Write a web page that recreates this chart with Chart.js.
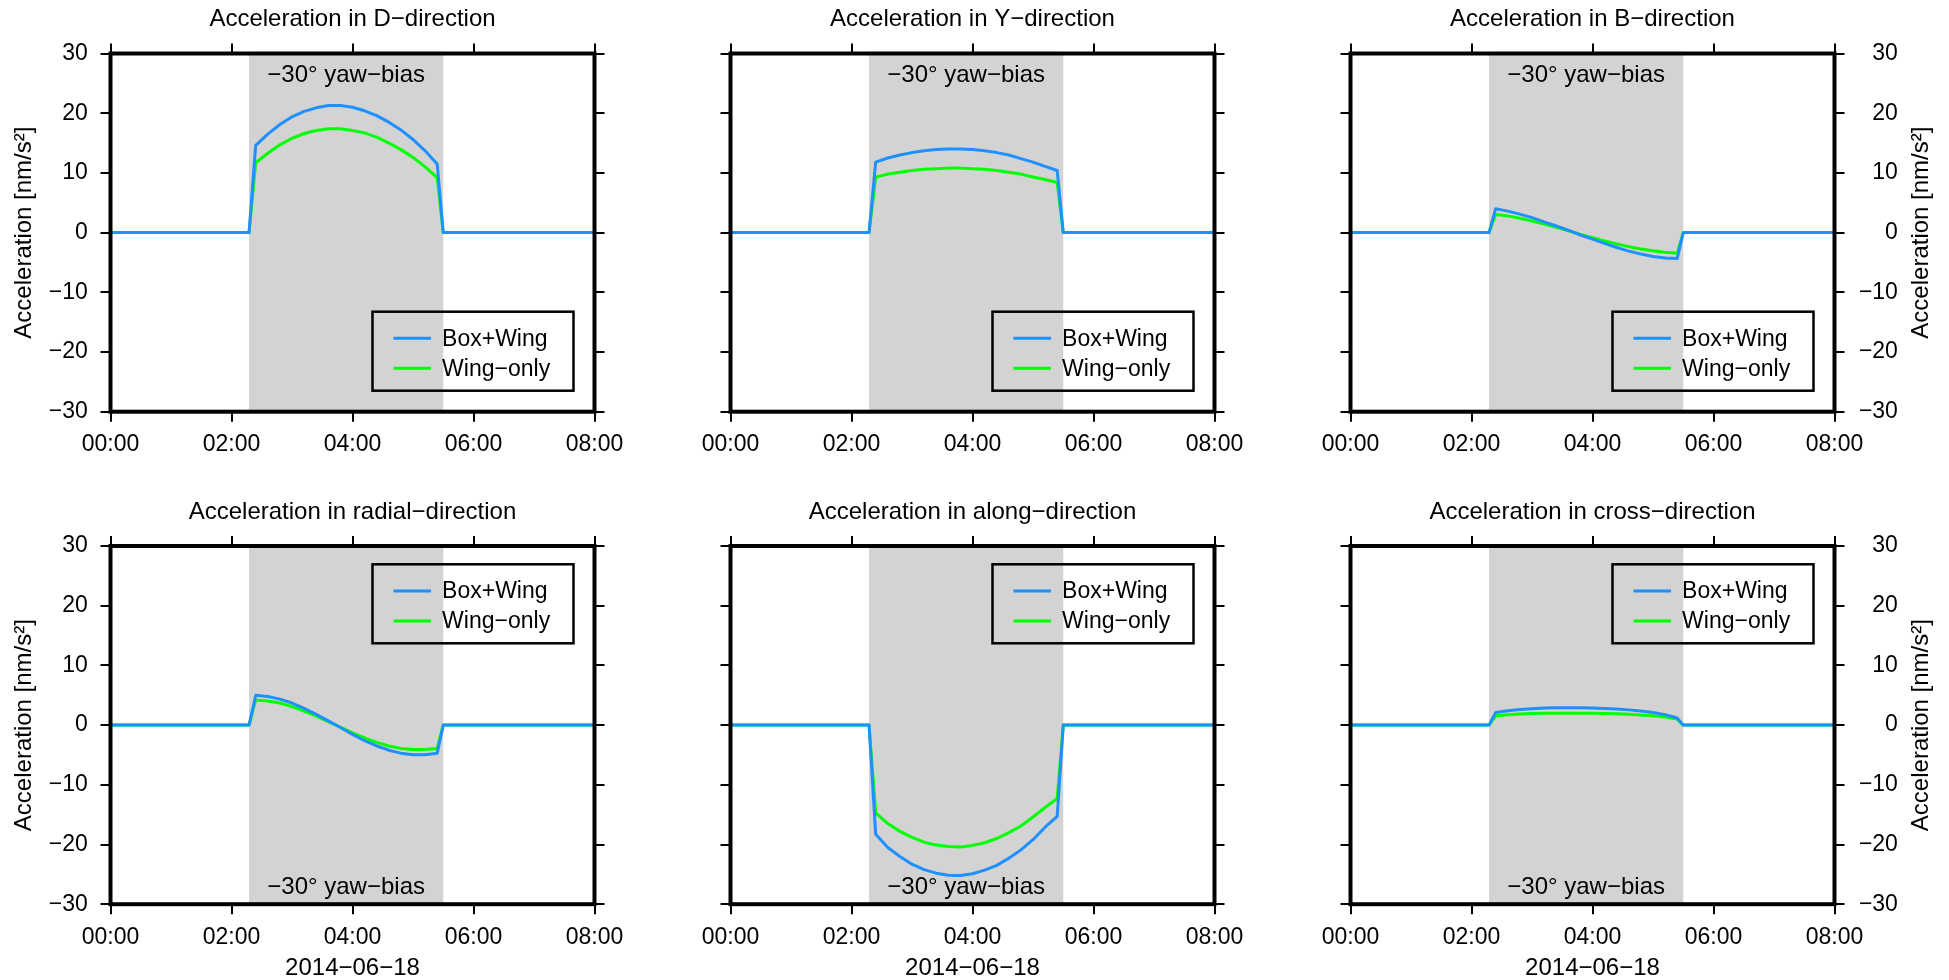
<!DOCTYPE html>
<html>
<head>
<meta charset="utf-8">
<script src="https://cdn.jsdelivr.net/npm/chart.js@4/dist/chart.umd.min.js"></script>
<style>
  html, body { margin: 0; padding: 0; background: #ffffff; }
  body { width: 1949px; height: 980px; position: relative; overflow: hidden; }
  canvas { position: absolute; }
</style>
</head>
<body>
<script>
// ---- data ---------------------------------------------------------------
// time in hours after 00:00 UTC on 2014-06-18
const hours = [0, 2.29, 2.40, 2.60, 2.80, 3.00, 3.20, 3.40, 3.60, 3.80, 4.00,
               4.20, 4.40, 4.60, 4.80, 5.00, 5.20, 5.40, 5.50, 8];

// accelerations in nm/s^2
const dBoxWing  = [0, 0, 14.6, 16.5, 18.1, 19.4, 20.3, 20.9, 21.3, 21.3, 21.0, 20.4, 19.6, 18.5, 17.2, 15.6, 13.7, 11.5, 0, 0];
const dWing     = [0, 0, 11.7, 13.3, 14.7, 15.8, 16.6, 17.1, 17.4, 17.4, 17.1, 16.7, 16.0, 15.0, 13.9, 12.6, 11.0, 9.2, 0, 0];
const yBoxWing  = [0, 0, 11.8, 12.5, 13.0, 13.4, 13.7, 13.9, 14.0, 14.0, 13.9, 13.7, 13.4, 13.0, 12.4, 11.8, 11.1, 10.4, 0, 0];
const yWing     = [0, 0, 9.3, 9.8, 10.1, 10.4, 10.6, 10.7, 10.8, 10.8, 10.7, 10.6, 10.4, 10.1, 9.8, 9.3, 8.9, 8.4, 0, 0];
const bBoxWing  = [0, 0, 4.0, 3.6, 3.1, 2.5, 1.8, 1.1, 0.4, -0.4, -1.1, -1.8, -2.5, -3.1, -3.6, -4.0, -4.25, -4.35, 0, 0];
const bWing     = [0, 0, 3.05, 2.8, 2.4, 1.95, 1.45, 0.9, 0.3, -0.3, -0.85, -1.4, -1.9, -2.35, -2.75, -3.05, -3.3, -3.45, 0, 0];
const radBoxWing = [0, 0, 5.0, 4.8, 4.35, 3.7, 2.8, 1.8, 0.7, -0.4, -1.55, -2.6, -3.5, -4.2, -4.7, -4.95, -4.95, -4.7, 0, 0];
const radWing    = [0, 0, 4.2, 4.05, 3.7, 3.1, 2.35, 1.5, 0.6, -0.35, -1.3, -2.15, -2.9, -3.5, -3.9, -4.1, -4.1, -3.9, 0, 0];
const alongBoxWing = [0, 0, -18.3, -20.5, -22.0, -23.3, -24.2, -24.8, -25.15, -25.2, -24.9, -24.3, -23.5, -22.3, -20.9, -19.2, -17.1, -15.3, 0, 0];
const alongWing    = [0, 0, -14.7, -16.5, -17.8, -18.8, -19.6, -20.1, -20.35, -20.4, -20.15, -19.7, -19.0, -18.0, -16.9, -15.4, -13.8, -12.3, 0, 0];
const crossBoxWing = [0, 0, 2.1, 2.4, 2.6, 2.75, 2.85, 2.9, 2.9, 2.9, 2.85, 2.8, 2.7, 2.55, 2.35, 2.1, 1.75, 1.2, 0, 0];
const crossWing    = [0, 0, 1.55, 1.75, 1.85, 1.95, 2.0, 2.0, 2.0, 2.0, 2.0, 1.95, 1.9, 1.8, 1.7, 1.55, 1.35, 1.0, 0, 0];

const seriesNames = ['Box+Wing', 'Wing\u2212only'];
const panelTitles = [
  'Acceleration in D\u2212direction', 'Acceleration in Y\u2212direction', 'Acceleration in B\u2212direction',
  'Acceleration in radial\u2212direction', 'Acceleration in along\u2212direction', 'Acceleration in cross\u2212direction'
];
const xTickValues = [0, 2, 4, 6, 8];
const xTickLabels = ['00:00', '02:00', '04:00', '06:00', '08:00'];
const yTickValues = [-30, -20, -10, 0, 10, 20, 30];
const yTickLabels = ['\u221230', '\u221220', '\u221210', '0', '10', '20', '30'];
const yawWindow = [2.29, 5.50];
const yawLabel = '\u221230\u00b0 yaw\u2212bias';
const yAxisTitle = 'Acceleration [nm/s\u00b2]';
const dateLabel = '2014\u221206\u221218';

// ---- layout -------------------------------------------------------------
const FONT = '"Liberation Sans", Arial, Helvetica, sans-serif';
const BLUE = '#1e90ff';
const GREEN = '#00ff00';
const SHADE = '#d3d3d3';
const PLOT_W = 484, PLOT_H = 358.2;
const AREA_LEFT = 110.5;                       // plot left edge inside each canvas
const colCanvas = [{x: 0, w: 680, rightAxis: 25.5}, {x: 620, w: 680, rightAxis: 25.5}, {x: 1240, w: 709, rightAxis: 63.4}];
const rowCanvas = [{y: 0, h: 490, top: 53.5}, {y: 490, h: 490, top: 56}];

const panels = [
  {row: 0, col: 0, box: dBoxWing,     wing: dWing},
  {row: 0, col: 1, box: yBoxWing,     wing: yWing},
  {row: 0, col: 2, box: bBoxWing,     wing: bWing},
  {row: 1, col: 0, box: radBoxWing,   wing: radWing},
  {row: 1, col: 1, box: alongBoxWing, wing: alongWing},
  {row: 1, col: 2, box: crossBoxWing, wing: crossWing}
];

function pts(vals) { return hours.map((h, i) => ({x: h, y: vals[i]})); }

// shading, frame, legend and text around each panel
const panelDecor = {
  id: 'panelDecor',
  beforeDatasetsDraw(chart, args, o) {
    const {ctx, chartArea: a} = chart;
    const xs = chart.scales.x;
    const x0 = xs.getPixelForValue(yawWindow[0]);
    const x1 = xs.getPixelForValue(yawWindow[1]);
    ctx.save();
    ctx.fillStyle = SHADE;
    ctx.fillRect(x0, a.top, x1 - x0, a.bottom - a.top);
    ctx.fillStyle = '#000';
    ctx.font = '24px ' + FONT;
    ctx.textAlign = 'center';
    ctx.textBaseline = 'middle';
    const ty = o.row === 0 ? a.top + 21.5 : a.bottom - 17.3;
    ctx.fillText(yawLabel, (x0 + x1) / 2, ty);
    ctx.restore();
  },
  afterDatasetsDraw(chart, args, o) {
    const {ctx, chartArea: a} = chart;
    ctx.save();
    // frame
    ctx.strokeStyle = '#000';
    ctx.lineWidth = 4;
    ctx.strokeRect(a.left, a.top, a.right - a.left, a.bottom - a.top);
    // legend
    const bw = 201, bh = 79;
    const bx = a.right - 21 - bw;
    const by = o.row === 0 ? a.bottom - 21 - bh : a.top + 18.3;
    ctx.lineWidth = 2.5;
    ctx.strokeRect(bx, by, bw, bh);
    ctx.font = '23px ' + FONT;
    ctx.textAlign = 'left';
    ctx.textBaseline = 'middle';
    chart.data.datasets.forEach((ds, i) => {
      const ly = by + 26.6 + i * 30;
      ctx.strokeStyle = ds.borderColor;
      ctx.lineWidth = 3;
      ctx.beginPath();
      ctx.moveTo(bx + 21, ly);
      ctx.lineTo(bx + 58.5, ly);
      ctx.stroke();
      ctx.fillStyle = '#000';
      ctx.fillText(ds.label, bx + 69.6, ly + 1);
    });
    ctx.restore();
  },
  afterDraw(chart, args, o) {
    const {ctx, chartArea: a} = chart;
    ctx.save();
    ctx.fillStyle = '#000';
    ctx.font = '24px ' + FONT;
    ctx.textAlign = 'center';
    ctx.textBaseline = 'middle';
    const cx = (a.left + a.right) / 2;
    ctx.fillText(o.title, cx, a.top - 33.8);
    if (o.row === 1) ctx.fillText(dateLabel, cx, a.bottom + 64.3);
    if (o.col !== 1) {
      const tx = o.col === 0 ? 24.5 : 681.7;
      ctx.translate(tx, (a.top + a.bottom) / 2);
      ctx.rotate(-Math.PI / 2);
      ctx.fillText(yAxisTitle, 0, 0);
    }
    ctx.restore();
  }
};

function axisGrid() {
  return {drawOnChartArea: false, drawTicks: true, tickLength: 10, lineWidth: 2, color: '#000'};
}
// keep the plot box fixed: no extra room reserved for overhanging end labels
function noOverhang(s) { s.paddingLeft = 0; s.paddingRight = 0; s.paddingTop = 0; s.paddingBottom = 0; }

panels.forEach((p, idx) => {
  const cc = colCanvas[p.col], rc = rowCanvas[p.row];
  const canvas = document.createElement('canvas');
  canvas.width = cc.w; canvas.height = rc.h;
  canvas.style.left = cc.x + 'px'; canvas.style.top = rc.y + 'px';
  canvas.style.width = cc.w + 'px'; canvas.style.height = rc.h + 'px';
  document.body.appendChild(canvas);

  const plotRight = AREA_LEFT + PLOT_W;
  const rightAxisW = cc.rightAxis;
  const padRight = cc.w - plotRight - rightAxisW;
  const bottomH = rc.h - rc.top - PLOT_H;
  const tickFont = {family: FONT, size: 23};

  new Chart(canvas, {
    type: 'line',
    data: {
      datasets: [
        {label: seriesNames[0], data: pts(p.box), borderColor: BLUE, borderWidth: 3},
        {label: seriesNames[1], data: pts(p.wing), borderColor: GREEN, borderWidth: 3}
      ]
    },
    options: {
      responsive: false,
      animation: false,
      devicePixelRatio: 1,
      layout: {padding: {left: 0, top: 0, bottom: 0, right: padRight}},
      elements: {
        point: {radius: 0},
        line: {tension: 0, borderCapStyle: 'round', borderJoinStyle: 'round'}
      },
      plugins: {
        legend: {display: false},
        tooltip: {enabled: false},
        panelDecor: {row: p.row, col: p.col, title: panelTitles[idx]}
      },
      scales: {
        x: {
          type: 'linear', position: 'bottom', min: 0, max: 8,
          afterBuildTicks: s => { s.ticks = xTickValues.map(v => ({value: v})); },
          afterFit: s => { s.height = bottomH; noOverhang(s); },
          ticks: {callback: (v, i) => xTickLabels[i], font: tickFont, color: '#000',
                  padding: 9.5, maxRotation: 0, autoSkip: false},
          grid: axisGrid(), border: {display: false}
        },
        x2: {
          type: 'linear', position: 'top', min: 0, max: 8,
          afterBuildTicks: s => { s.ticks = xTickValues.map(v => ({value: v})); },
          afterFit: s => { s.height = rc.top; noOverhang(s); },
          ticks: {display: false},
          grid: axisGrid(), border: {display: false}
        },
        y: {
          type: 'linear', position: 'left', min: -30, max: 30,
          afterBuildTicks: s => { s.ticks = yTickValues.map(v => ({value: v})); },
          afterFit: s => { s.width = AREA_LEFT; noOverhang(s); },
          ticks: {display: p.col === 0, callback: (v, i) => yTickLabels[i], font: tickFont,
                  color: '#000', padding: 12.7},
          grid: axisGrid(), border: {display: false}
        },
        y2: {
          type: 'linear', position: 'right', min: -30, max: 30,
          afterBuildTicks: s => { s.ticks = yTickValues.map(v => ({value: v})); },
          afterFit: s => { s.width = rightAxisW; noOverhang(s); },
          ticks: {display: p.col === 2, callback: (v, i) => yTickLabels[i], font: tickFont,
                  color: '#000', padding: 10, crossAlign: 'far'},
          grid: axisGrid(), border: {display: false}
        }
      }
    },
    plugins: [panelDecor]
  });
});
</script>
</body>
</html>
